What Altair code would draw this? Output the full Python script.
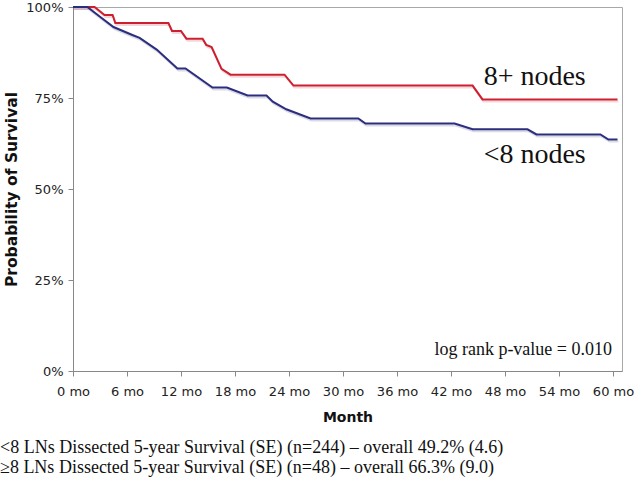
import altair as alt
import pandas as pd

# Red: 8+ nodes
red_month = [0, 2.4, 3.5, 4.4, 4.7, 10.6, 11.0, 12.0, 12.6, 14.4, 14.8, 15.4, 16.5, 17.5, 23.5, 24.5, 44.4, 45.5, 60.5]
red_surv = [1.0, 1.0, 0.978, 0.978, 0.956, 0.956, 0.934, 0.934, 0.913, 0.913, 0.896, 0.89, 0.83, 0.814, 0.814, 0.784, 0.784, 0.746, 0.746]

# Blue: <8 nodes
blue_month = [0, 1.6, 3.0, 4.5, 6.6, 7.4, 9.3, 11.6, 12.5, 15.5, 17.1, 19.4, 21.5, 22.2, 23.7, 26.4, 31.7, 32.5, 42.4, 44.4, 50.5, 51.5, 58.6, 59.5, 60.5]
blue_surv = [1.0, 1.0, 0.973, 0.945, 0.923, 0.915, 0.883, 0.831, 0.831, 0.779, 0.779, 0.757, 0.757, 0.74, 0.719, 0.694, 0.694, 0.68, 0.68, 0.664, 0.664, 0.65, 0.65, 0.636, 0.636]

groups = ["8+ nodes", "<8 nodes"]
colors = ["#cc1f2f", "#2b2e7c"]

x_ticks = [0, 6, 12, 18, 24, 30, 36, 42, 48, 54, 60]
y_ticks = [0, 0.25, 0.5, 0.75, 1.0]

label_text = ["8+ nodes", "<8 nodes"]
label_month = [51.3, 51.3]
label_surv = [0.787, 0.571]

pvalue_text = "log rank p-value = 0.010"
footer_lines = [
    "<8 LNs Dissected 5-year Survival (SE) (n=244) \u2013 overall 49.2% (4.6)",
    "\u22658 LNs Dissected 5-year Survival (SE) (n=48) \u2013 overall 66.3% (9.0)",
]

df = pd.concat([
    pd.DataFrame({"month": red_month, "surv": red_surv, "group": groups[0], "order": range(len(red_month))}),
    pd.DataFrame({"month": blue_month, "surv": blue_surv, "group": groups[1], "order": range(len(blue_month))}),
])

W, H = 549, 364
TOP = 7

x_scale = alt.Scale(domain=[0, 61], nice=False, zero=False)
y_scale = alt.Scale(domain=[0, 1], nice=False)

base = alt.Chart(df)

shadow = base.mark_line(strokeWidth=2, yOffset=2, xOffset=1, opacity=0.18).encode(
    x=alt.X("month:Q", scale=x_scale),
    y=alt.Y("surv:Q", scale=y_scale),
    color=alt.Color("group:N", scale=alt.Scale(domain=groups, range=colors), legend=None),
    detail="group:N",
    order="order:Q",
)

lines = base.mark_line(strokeWidth=2).encode(
    x=alt.X("month:Q", scale=x_scale,
            axis=alt.Axis(values=x_ticks, labelExpr="datum.value + ' mo'", title="Month",
                          grid=False, tickSize=5, labelPadding=9, titlePadding=12,
                          labelFontSize=13, titleFontSize=14, titleFontWeight="bold",
                          labelFont="DejaVu Sans", titleFont="DejaVu Sans",
                          domainColor="#888888", tickColor="#888888", labelColor="#222222",
                          titleColor="#111111", labelFlush=False)),
    y=alt.Y("surv:Q", scale=y_scale,
            axis=alt.Axis(values=y_ticks, format=".0%", title="Probability of Survival",
                          grid=False, tickSize=5, labelPadding=5, titlePadding=6,
                          labelFontSize=13, titleFontSize=15.5, titleFontWeight="bold",
                          labelFont="DejaVu Sans", titleFont="DejaVu Sans",
                          domainColor="#888888", tickColor="#888888", labelColor="#222222",
                          titleColor="#111111")),
    color=alt.Color("group:N", scale=alt.Scale(domain=groups, range=colors), legend=None),
    order="order:Q",
)

lab_df = pd.DataFrame({"t": label_text, "m": label_month, "s": label_surv})
labels = alt.Chart(lab_df).mark_text(
    font="Liberation Serif", fontSize=28, align="center", baseline="alphabetic", color="#111111"
).encode(x=alt.X("m:Q", scale=x_scale), y=alt.Y("s:Q", scale=y_scale), text="t:N")

pv_df = pd.DataFrame({"t": [pvalue_text]})
pval = alt.Chart(pv_df).mark_text(
    font="Liberation Serif", fontSize=18, align="right", baseline="alphabetic", color="#111111"
).encode(x=alt.value(539), y=alt.value(355 - TOP), text="t:N")

footer1 = alt.Chart(pd.DataFrame({"t": [footer_lines[0]]})).mark_text(
    font="Liberation Serif", fontSize=18, align="left", baseline="alphabetic", color="#111111"
).encode(x=alt.value(-73), y=alt.value(453 - TOP), text="t:N")

footer2 = alt.Chart(pd.DataFrame({"t": [footer_lines[1]]})).mark_text(
    font="Liberation Serif", fontSize=18, align="left", baseline="alphabetic", color="#111111"
).encode(x=alt.value(-73), y=alt.value(473 - TOP), text="t:N")

chart = alt.layer(shadow, lines, labels, pval, footer1, footer2).properties(
    width=W, height=H,
    autosize=alt.AutoSizeParams(type="none"),
    padding={"left": 73, "top": TOP, "right": 16, "bottom": 108},
    background="white",
).configure_view(stroke="#a8a8a8", strokeWidth=1)

chart.save("out.html", embed_options={"renderer": "svg", "actions": False})
